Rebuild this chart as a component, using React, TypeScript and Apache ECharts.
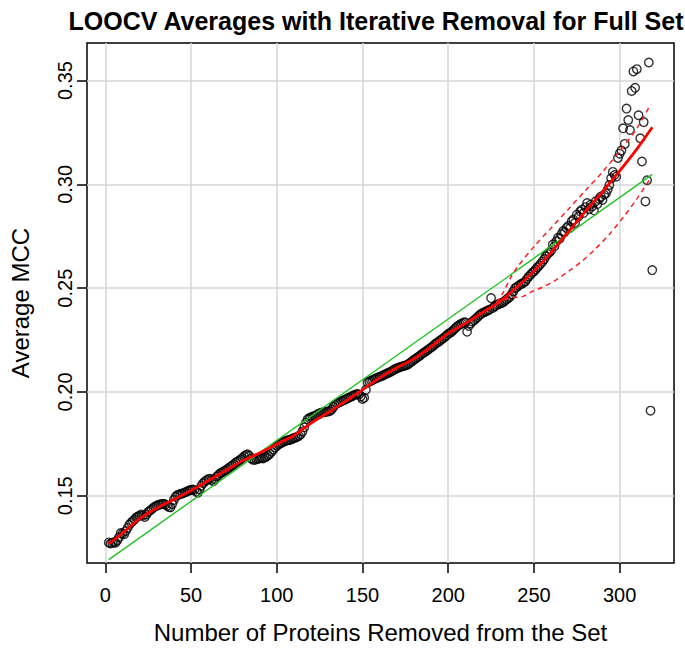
import React, { useEffect, useRef } from "react";
import * as echarts from "echarts";

// Average MCC for each number of removed proteins, starting at 2 removed
const firstRemoved = 2;
const mccValues = [
  0.1275, 0.1270, 0.1272, 0.1276, 0.1274, 0.1285, 0.1300, 0.1320, 0.1318, 0.1315,
  0.1330, 0.1345, 0.1360, 0.1370, 0.1378, 0.1385, 0.1395, 0.1400, 0.1405, 0.1410,
  0.1405, 0.1398, 0.1410, 0.1422, 0.1428, 0.1435, 0.1442, 0.1448, 0.1452, 0.1456,
  0.1458, 0.1460, 0.1462, 0.1458, 0.1452, 0.1446, 0.1444, 0.1460, 0.1480, 0.1495,
  0.1503, 0.1506, 0.1509, 0.1511, 0.1514, 0.1518, 0.1522, 0.1526, 0.1528, 0.1530,
  0.1528, 0.1520, 0.1515, 0.1530, 0.1548, 0.1560, 0.1568, 0.1575, 0.1580, 0.1582,
  0.1576, 0.1570, 0.1580, 0.1592, 0.1600, 0.1608, 0.1612, 0.1618, 0.1622, 0.1628,
  0.1634, 0.1640, 0.1645, 0.1652, 0.1660, 0.1664, 0.1670, 0.1676, 0.1682, 0.1690,
  0.1696, 0.1700, 0.1692, 0.1680, 0.1674, 0.1672, 0.1676, 0.1678, 0.1680, 0.1682,
  0.1680, 0.1684, 0.1688, 0.1695, 0.1702, 0.1712, 0.1722, 0.1732, 0.1740, 0.1746,
  0.1752, 0.1756, 0.1760, 0.1764, 0.1766, 0.1768, 0.1770, 0.1774, 0.1778, 0.1780,
  0.1784, 0.1788, 0.1796, 0.1810, 0.1830, 0.1852, 0.1868, 0.1874, 0.1878, 0.1882,
  0.1884, 0.1888, 0.1893, 0.1897, 0.1900, 0.1902, 0.1904, 0.1905, 0.1906, 0.1908,
  0.1915, 0.1928, 0.1938, 0.1944, 0.1948, 0.1952, 0.1956, 0.1960, 0.1964, 0.1968,
  0.1972, 0.1976, 0.1980, 0.1984, 0.1988, 0.1990, 0.1988, 0.1978, 0.1966, 0.1972,
  0.2010, 0.2045, 0.2050, 0.2054, 0.2058, 0.2062, 0.2066, 0.2070, 0.2073, 0.2076,
  0.2080, 0.2084, 0.2088, 0.2092, 0.2095, 0.2100, 0.2105, 0.2110, 0.2114, 0.2117,
  0.2120, 0.2123, 0.2125, 0.2127, 0.2130, 0.2136, 0.2142, 0.2148, 0.2155, 0.2160,
  0.2166, 0.2172, 0.2178, 0.2185, 0.2190, 0.2196, 0.2202, 0.2208, 0.2214, 0.2220,
  0.2228, 0.2235, 0.2240, 0.2246, 0.2252, 0.2258, 0.2265, 0.2272, 0.2280, 0.2284,
  0.2290, 0.2298, 0.2306, 0.2314, 0.2320, 0.2326, 0.2330, 0.2334, 0.2336, 0.2290,
  0.2318, 0.2330, 0.2338, 0.2345, 0.2352, 0.2360, 0.2368, 0.2375, 0.2380, 0.2384,
  0.2388, 0.2392, 0.2396, 0.2452, 0.2405, 0.2412, 0.2418, 0.2422, 0.2425, 0.2428,
  0.2432, 0.2438, 0.2445, 0.2452, 0.2458, 0.2470, 0.2485, 0.2500, 0.2506, 0.2512,
  0.2518, 0.2522, 0.2526, 0.2532, 0.2545, 0.2556, 0.2565, 0.2574, 0.2580, 0.2590,
  0.2600, 0.2608, 0.2618, 0.2628, 0.2640, 0.2655, 0.2665, 0.2672, 0.2680, 0.2710,
  0.2702, 0.2725, 0.2743, 0.2738, 0.2760, 0.2775, 0.2770, 0.2790, 0.2799, 0.2790,
  0.2822, 0.2830, 0.2815, 0.2854, 0.2845, 0.2870, 0.2878, 0.2862, 0.2890, 0.2910,
  0.2880, 0.2902, 0.2894, 0.2875, 0.2918, 0.2905, 0.2930, 0.2941, 0.2925, 0.2950,
  0.2957, 0.2975, 0.2997, 0.3029, 0.3060, 0.3045, 0.3037, 0.3127, 0.3148, 0.3163,
  0.3270, 0.3195, 0.3365, 0.3310, 0.3262, 0.3450, 0.3544, 0.3465, 0.3555, 0.3333,
  0.3222, 0.3110, 0.3300, 0.2918, 0.3020, 0.3587, 0.1910, 0.2587,
];

// Smoothed (loess) fit
const fitX = [2, 10, 20, 30, 40, 50, 60, 70, 80, 90, 100, 110, 120, 130, 140, 150, 160, 170, 180, 190, 200, 210, 220, 230, 240, 250, 260, 270, 280, 290, 300, 310, 319];
const fitY = [0.1268, 0.1320, 0.1390, 0.1440, 0.1482, 0.1525, 0.1572, 0.1620, 0.1668, 0.1706, 0.1748, 0.1790, 0.1850, 0.1900, 0.1955, 0.2010, 0.2068, 0.2117, 0.2160, 0.2218, 0.2282, 0.2330, 0.2382, 0.2435, 0.2505, 0.2582, 0.2672, 0.2770, 0.2870, 0.2965, 0.3065, 0.3170, 0.3275];

// Dashed bands
const upperX = [228, 232, 236, 240, 250, 260, 270, 280, 290, 300, 310, 318];
const upperY = [0.2430, 0.2478, 0.2545, 0.2598, 0.2700, 0.2790, 0.2880, 0.2970, 0.3060, 0.3160, 0.3270, 0.3385];
const lowerX = [228, 233, 238, 243, 248, 255, 262, 270, 278, 286, 294, 302, 310, 318];
const lowerY = [0.2420, 0.2445, 0.2455, 0.2458, 0.2480, 0.2505, 0.2535, 0.2580, 0.2630, 0.2690, 0.2760, 0.2840, 0.2930, 0.3030];

// Linear fit endpoints
const linX = [2, 319];
const linY = [0.1192, 0.3048];

const xTicks = [0, 50, 100, 150, 200, 250, 300];
const yTicks = [0.15, 0.2, 0.25, 0.3, 0.35];

const FONT = "Liberation Sans, Arial, Helvetica, sans-serif";

export default function App() {
  const ref = useRef<HTMLDivElement>(null);

  useEffect(() => {
    if (!ref.current) return;
    const chart = echarts.init(ref.current, undefined, { renderer: "svg" });

    const points = mccValues.map((v, i) => [firstRemoved + i, v]);
    const fit = fitX.map((x, i) => [x, fitY[i]]);
    const upper = upperX.map((x, i) => [x, upperY[i]]);
    const lower = lowerX.map((x, i) => [x, lowerY[i]]);
    const lin = linX.map((x, i) => [x, linY[i]]);

    chart.setOption({
      animation: false,
      backgroundColor: "#ffffff",
      title: {
        text: "LOOCV Averages with Iterative Removal for Full Set",
        left: 371,
        top: 3,
        textAlign: "center",
        textStyle: { fontSize: 25, fontWeight: "bold", color: "#000", fontFamily: FONT },
      },
      grid: {
        left: 87,
        top: 43,
        width: 587,
        height: 526,
        show: true,
        borderColor: "#000",
        borderWidth: 1.5,
        backgroundColor: "transparent",
      },
      xAxis: {
        type: "value",
        min: -10.68,
        max: 331.68,
        axisLine: { show: false, onZero: false },
        axisTick: {
          show: true,
          length: 10,
          customValues: xTicks,
          lineStyle: { color: "#000", width: 1.5 },
        },
        axisLabel: {
          customValues: xTicks,
          fontSize: 20,
          color: "#000",
          margin: 22,
          fontFamily: FONT,
        },
        splitLine: { show: true, lineStyle: { color: "#d6d6d6", width: 1.5 } },
        name: "Number of Proteins Removed from the Set",
        nameLocation: "middle",
        nameGap: 57,
        nameTextStyle: { fontSize: 24, color: "#000", fontFamily: FONT },
      },
      yAxis: {
        type: "value",
        min: 0.1176,
        max: 0.3681,
        axisLine: { show: false, onZero: false },
        axisTick: {
          show: true,
          length: 10,
          customValues: yTicks,
          lineStyle: { color: "#000", width: 1.5 },
        },
        axisLabel: {
          customValues: yTicks,
          fontSize: 20,
          color: "#000",
          margin: 12,
          rotate: 90,
          fontFamily: FONT,
          formatter: (v: number) => v.toFixed(2),
        },
        splitLine: { show: true, lineStyle: { color: "#d6d6d6", width: 1.5 } },
        name: "Average MCC",
        nameLocation: "middle",
        nameGap: 55,
        nameTextStyle: { fontSize: 24, color: "#000", fontFamily: FONT },
      },
      series: [
        {
          type: "scatter",
          data: points,
          symbol: "circle",
          symbolSize: 8.5,
          itemStyle: { color: "rgba(0,0,0,0)", borderColor: "#000", borderWidth: 1.4 },
          silent: true,
          z: 2,
        },
        {
          type: "line",
          data: lin,
          showSymbol: false,
          lineStyle: { color: "#22c322", width: 1.4 },
          silent: true,
          z: 3,
        },
        {
          type: "line",
          data: fit,
          showSymbol: false,
          smooth: 0.3,
          lineStyle: { color: "#ff0000", width: 2.8 },
          silent: true,
          z: 4,
        },
        {
          type: "line",
          data: upper,
          showSymbol: false,
          smooth: 0.3,
          lineStyle: { color: "#ff2020", width: 1.5, type: [5, 4] },
          silent: true,
          z: 4,
        },
        {
          type: "line",
          data: lower,
          showSymbol: false,
          smooth: 0.3,
          lineStyle: { color: "#ff2020", width: 1.5, type: [5, 4] },
          silent: true,
          z: 4,
        },
      ],
    });

    return () => chart.dispose();
  }, []);

  return (
    <div
      ref={ref}
      style={{ position: "fixed", left: 0, top: 0, width: 685, height: 649, background: "#fff" }}
    />
  );
}
